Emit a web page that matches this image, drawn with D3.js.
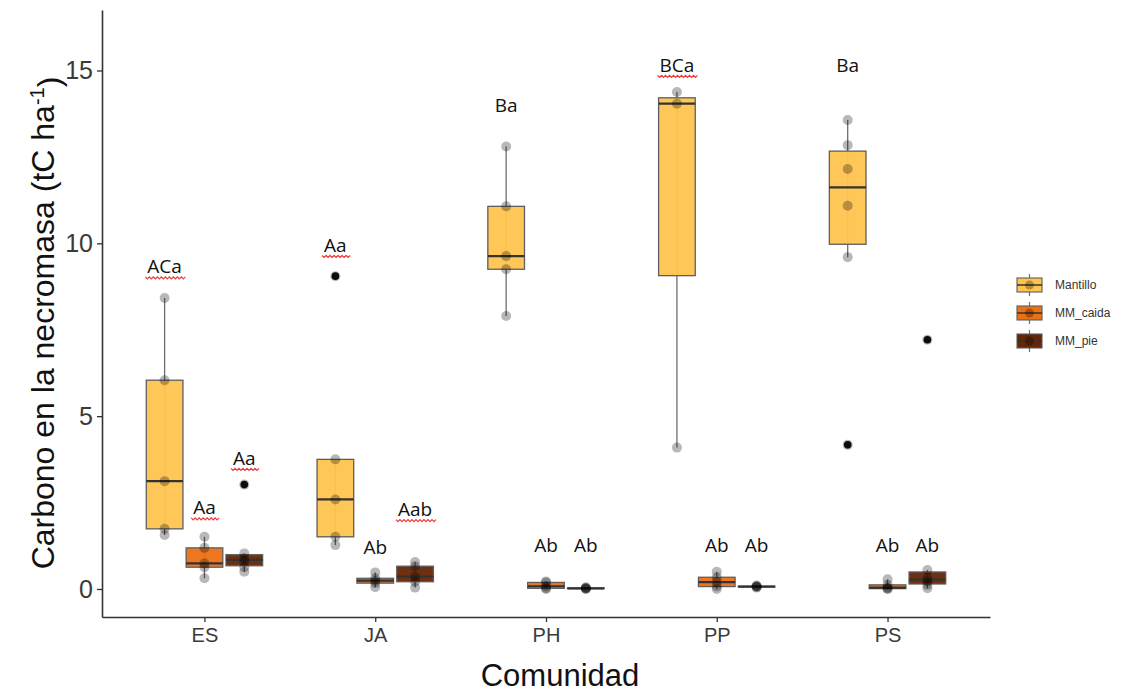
<!DOCTYPE html>
<html><head><meta charset="utf-8">
<script src="https://cdn.jsdelivr.net/npm/d3@7"></script>
<style>body{margin:0;background:#fff}</style>
</head><body><svg id="chart" width="1126" height="693"></svg>
<script>
// ---------- data ----------
const categories = ["ES", "JA", "PH", "PP", "PS"];
const groups = ["Mantillo", "MM_caida", "MM_pie"];
// values per category (aligned with categories)
const mantilloValues = [
  [1.56, 1.74, 3.12, 6.04, 8.42],
  [1.27, 1.51, 2.59, 3.75, 9.05],
  [7.90, 9.25, 9.63, 11.07, 12.80],
  [4.09, 14.04, 14.38],
  [4.17, 9.60, 11.09, 12.15, 12.84, 13.57]
];
const caidaValues = [
  [0.31, 0.63, 0.74, 1.19, 1.51],
  [0.05, 0.17, 0.24, 0.31, 0.48],
  [0.00, 0.02, 0.08, 0.19, 0.22],
  [0.00, 0.07, 0.20, 0.34, 0.50],
  [0.00, 0.01, 0.04, 0.12, 0.28]
];
const pieValues = [
  [0.50, 0.63, 0.80, 0.88, 1.03, 3.02],
  [0.04, 0.21, 0.36, 0.66, 0.78],
  [0.00, 0.01, 0.02, 0.03, 0.05],
  [0.04, 0.06, 0.07, 0.08, 0.10],
  [0.02, 0.12, 0.22, 0.32, 0.55, 7.21]
];
const yTicks = [0, 5, 10, 15];
// significance letters (rows = categories, cols = groups) and their height in data units
const letterLabels = [
  ["ACa", "Aa", "Aa"],
  ["Aa", "Ab", "Aab"],
  ["Ba", "Ab", "Ab"],
  ["BCa", "Ab", "Ab"],
  ["Ba", "Ab", "Ab"]
];
const letterHeights = [
  [9.13, 2.16, 3.59],
  [9.75, 1.01, 2.11],
  [13.81, 1.08, 1.08],
  [14.96, 1.08, 1.08],
  [14.96, 1.08, 1.08]
];
const spellFlagged = ["ACa", "Aa", "Aab", "BCa"];

// ---------- styles ----------
const fills = { "Mantillo": "#FEC44F", "MM_caida": "#EC7014", "MM_pie": "#662506" };
const svg = d3.select("#chart");
const axisFont = "'Liberation Sans', Arial, sans-serif";

const x = d3.scalePoint().domain(categories).range([102, 990]).padding(0.6);
const step = x.step();
const xSub = d3.scaleBand().domain(groups).range([-0.35 * step, 0.35 * step]).padding(0);
const boxW = xSub.bandwidth() * 0.92;
const y = d3.scaleLinear().domain([-0.81, 16.75]).range([617, 10]);

const seriesByGroup = { "Mantillo": mantilloValues, "MM_caida": caidaValues, "MM_pie": pieValues };

function stats(vals) {
  const s = vals.slice().sort(d3.ascending);
  const q1 = d3.quantile(s, 0.25), med = d3.quantile(s, 0.5), q3 = d3.quantile(s, 0.75);
  const iqr = q3 - q1;
  const lf = q1 - 1.5 * iqr, uf = q3 + 1.5 * iqr;
  const inside = s.filter(v => v >= lf && v <= uf);
  return { q1, med, q3, lo: d3.min(inside), hi: d3.max(inside), out: s.filter(v => v < lf || v > uf), vals: s };
}

const boxes = [];
groups.forEach(g => categories.forEach((c, i) => {
  boxes.push({ g, c, i, cx: x(c) + xSub(g) + xSub.bandwidth() / 2, ...stats(seriesByGroup[g][i]) });
}));

// ---------- axes ----------
const yAxis = svg.append("g").attr("transform", "translate(102,0)")
  .call(d3.axisLeft(y).tickValues(yTicks).tickSize(5).tickSizeOuter(0).tickPadding(4));
const xAxis = svg.append("g").attr("transform", "translate(0,617)")
  .call(d3.axisBottom(x).tickSize(5).tickSizeOuter(0).tickPadding(6));
[yAxis, xAxis].forEach(a => {
  a.select(".domain").attr("stroke", "#333").attr("stroke-width", 1.6);
  a.selectAll(".tick line").attr("stroke", "#333").attr("stroke-width", 1.3);
  a.selectAll("text").attr("fill", "#3a3a3a").style("font-family", axisFont);
});
yAxis.selectAll("text").style("font-size", "25px");
xAxis.selectAll("text").style("font-size", "20px").attr("dy", "0.71em");

// axis titles
svg.append("text").attr("x", 560).attr("y", 686).attr("text-anchor", "middle")
  .style("font-family", axisFont).style("font-size", "31px").attr("fill", "#111").text("Comunidad");
const yt = svg.append("text").attr("transform", "translate(54,323) rotate(-90)").attr("text-anchor", "middle")
  .style("font-family", axisFont).style("font-size", "32px").attr("fill", "#111");
yt.append("tspan").text("Carbono en la necromasa (tC ha");
yt.append("tspan").attr("dy", "-0.5em").style("font-size", "20px").text("-1");
yt.append("tspan").attr("dy", "0.5em").text(")");

// ---------- boxes ----------
const plot = svg.append("g");
plot.selectAll(".whisker").data(boxes).join("line")
  .attr("x1", d => d.cx).attr("x2", d => d.cx)
  .attr("y1", d => y(d.hi)).attr("y2", d => y(d.lo))
  .attr("stroke", "#6f6f6f").attr("stroke-width", 1.3);
plot.selectAll(".box").data(boxes).join("rect")
  .attr("x", d => d.cx - boxW / 2).attr("width", boxW)
  .attr("y", d => y(d.q3)).attr("height", d => Math.max(0.5, y(d.q1) - y(d.q3)))
  .attr("fill", d => fills[d.g]).attr("fill-opacity", 0.95)
  .attr("stroke", "#5e5e5e").attr("stroke-width", 1.3);
plot.selectAll(".median").data(boxes).join("line")
  .attr("x1", d => d.cx - boxW / 2).attr("x2", d => d.cx + boxW / 2)
  .attr("y1", d => y(d.med)).attr("y2", d => y(d.med))
  .attr("stroke", "#333").attr("stroke-width", 2.2);
plot.selectAll(".outlier").data(boxes.flatMap(b => b.out.map(v => ({ cx: b.cx, v })))).join("circle")
  .attr("cx", d => d.cx).attr("cy", d => y(d.v)).attr("r", 3.8).attr("fill", "#111");
plot.selectAll(".pt").data(boxes.flatMap(b => b.vals.map(v => ({ cx: b.cx, v })))).join("circle")
  .attr("cx", d => d.cx).attr("cy", d => y(d.v)).attr("r", 5)
  .attr("fill", "#000").attr("fill-opacity", 0.28);

// ---------- letters ----------
const letterData = [];
categories.forEach((c, i) => groups.forEach((g, j) => letterData.push({
  t: letterLabels[i][j], v: letterHeights[i][j], cx: x(c) + xSub(g) + xSub.bandwidth() / 2
})));
const lg = svg.append("g");
letterData.forEach(d => {
  const t = lg.append("text").attr("x", d.cx).attr("y", y(d.v)).attr("text-anchor", "middle")
    .style("font-family", "'Open Sans', 'Noto Sans', sans-serif").style("font-size", "19px")
    .attr("fill", "#111").text(d.t);
  if (spellFlagged.includes(d.t)) {
    const w = t.node().getComputedTextLength() + 4;
    const x0 = d.cx - w / 2, yy = y(d.v) + 3.5;
    let p = `M${x0},${yy}`;
    for (let k = 0, xx = x0; xx < x0 + w; k++) { xx += 2; p += ` L${xx},${yy + (k % 2 === 0 ? 2 : 0)}`; }
    lg.append("path").attr("d", p).attr("fill", "none").attr("stroke", "#f03a3a").attr("stroke-width", 1.2);
  }
});

// ---------- legend ----------
const leg = svg.append("g").attr("transform", "translate(1017,285)");
groups.forEach((g, i) => {
  const r = leg.append("g").attr("transform", `translate(0,${i * 28})`);
  r.append("line").attr("x1", 12.5).attr("x2", 12.5).attr("y1", -11).attr("y2", 11).attr("stroke", "#6f6f6f").attr("stroke-width", 1.2);
  r.append("rect").attr("x", 0).attr("y", -7).attr("width", 25).attr("height", 14)
    .attr("fill", fills[g]).attr("stroke", "#5e5e5e").attr("stroke-width", 1.1);
  r.append("line").attr("x1", 0).attr("x2", 25).attr("y1", 0).attr("y2", 0).attr("stroke", "#333").attr("stroke-width", 1.5);
  r.append("circle").attr("cx", 12.5).attr("cy", 0).attr("r", 4.5).attr("fill", "#000").attr("fill-opacity", 0.28);
  r.append("text").attr("x", 38).attr("y", 0).attr("dy", "0.35em")
    .style("font-family", axisFont).style("font-size", "12px").attr("fill", "#333").text(g);
});
</script></body></html>
